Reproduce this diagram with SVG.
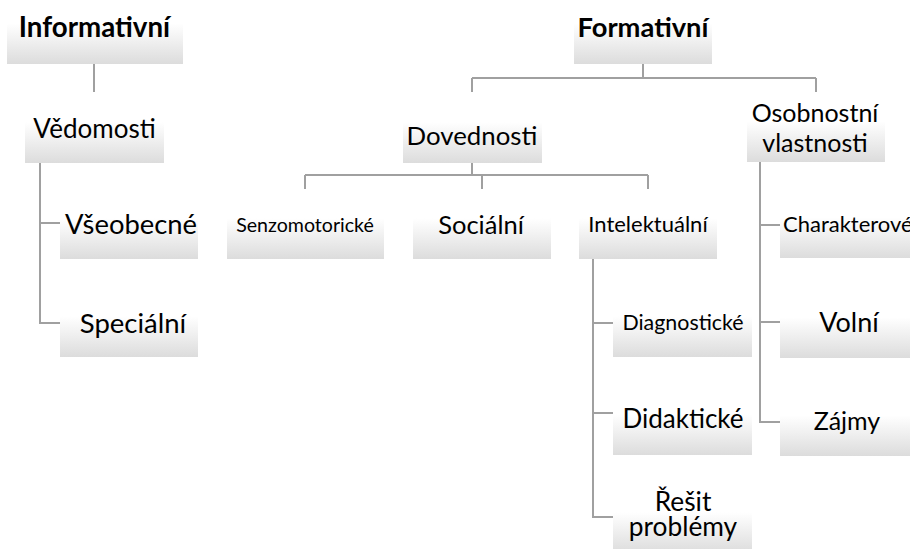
<svg xmlns="http://www.w3.org/2000/svg" width="910" height="549" viewBox="0 0 910 549">
<defs>
<linearGradient id="g" x1="0" y1="0" x2="0" y2="1">
<stop offset="0" stop-color="#ffffff"/>
<stop offset="0.42" stop-color="#ffffff"/>
<stop offset="1" stop-color="#dcdcdc"/>
</linearGradient>
<style>
.box{fill:url(#g);stroke:none}
.t{font-family:Lato,"Liberation Sans",sans-serif;fill:#000;text-anchor:middle}
.b{font-weight:bold}
.c{fill:none;stroke:#a0a0a0;stroke-width:2}
</style>
</defs>
<rect width="910" height="549" fill="#ffffff"/>
<g id="connectors">
<path class="c" d="M94 64V92"/>
<path class="c" d="M643 64V78M472 78H816M472 78V92M816 78V92"/>
<path class="c" d="M40 163V323H60M40 223H60"/>
<path class="c" d="M472 163V175M305 175H648M305 175V190M482 175V190M648 175V190"/>
<path class="c" d="M593 259V517H613M593 323H613M593 413H613"/>
<path class="c" d="M760 162V422H780M760 225H780M760 322H780"/>
</g>
<g id="informativni"><rect class="box" x="7" y="-6" width="176" height="70"/><text class="t b" x="94.5" y="37" font-size="27.7">Informativní</text></g>
<g id="formativni"><rect class="box" x="574" y="-6" width="138" height="70"/><text class="t b" x="643" y="37" font-size="27.3">Formativní</text></g>
<g id="vedomosti"><rect class="box" x="25" y="93" width="139" height="70"/><text class="t" x="94.5" y="138" font-size="26">Vědomosti</text></g>
<g id="vseobecne"><rect class="box" x="60" y="189" width="138" height="70"/><text class="t" x="131" y="234" font-size="27.4">Všeobecné</text></g>
<g id="specialni"><rect class="box" x="60" y="287" width="138" height="70"/><text class="t" x="133" y="333" font-size="27.5">Speciální</text></g>
<g id="dovednosti"><rect class="box" x="403" y="93" width="139" height="70"/><text class="t" x="472" y="145" font-size="25.8">Dovednosti</text></g>
<g id="osobnostni"><rect class="box" x="747" y="92" width="138" height="70"/><text class="t" x="815" y="122" font-size="25">Osobnostní</text><text class="t" x="815" y="152" font-size="25">vlastnosti</text></g>
<g id="senzomotoricke"><rect class="box" x="227" y="189" width="157" height="70"/><text class="t" x="305" y="232" font-size="19.6">Senzomotorické</text></g>
<g id="socialni"><rect class="box" x="413" y="189" width="138" height="70"/><text class="t" x="481" y="234" font-size="25.5">Sociální</text></g>
<g id="intelektualni"><rect class="box" x="579" y="189" width="138" height="70"/><text class="t" x="648" y="232" font-size="22">Intelektuální</text></g>
<g id="diagnosticke"><rect class="box" x="613" y="287" width="139" height="70"/><text class="t" x="683" y="330" font-size="21.4">Diagnostické</text></g>
<g id="didakticke"><rect class="box" x="613" y="385" width="139" height="70"/><text class="t" x="683" y="428" font-size="26">Didaktické</text></g>
<g id="resit"><rect class="box" x="613" y="483" width="139" height="70"/><text class="t" x="683" y="511" font-size="26.3">Řešit</text><text class="t" x="683" y="536" font-size="26.3">problémy</text></g>
<g id="charakterove"><rect class="box" x="780" y="188" width="138" height="70"/><text class="t" x="783" y="232" font-size="22" style="text-anchor:start">Charakterové</text></g>
<g id="volni"><rect class="box" x="780" y="288" width="138" height="70"/><text class="t" x="849" y="332" font-size="27">Volní</text></g>
<g id="zajmy"><rect class="box" x="780" y="386" width="138" height="70"/><text class="t" x="847" y="430" font-size="25">Zájmy</text></g>
</svg>
